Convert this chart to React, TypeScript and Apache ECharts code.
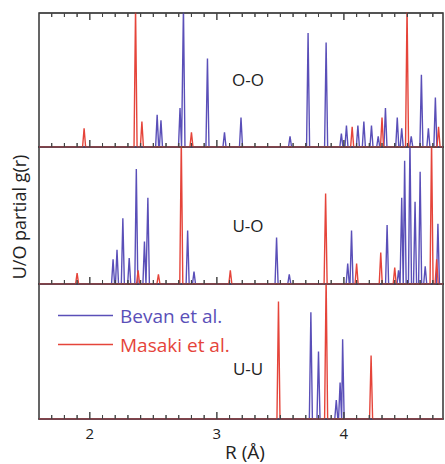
import React, { useEffect, useRef } from "react";
import * as echarts from "echarts";

// Peak positions R (Å) and relative heights (1 = panel top; >1 is clipped)
const OO_BEVAN: [number, number][] = [
  [2.53, 0.24], [2.56, 0.2], [2.71, 0.29], [2.737, 1.05], [2.926, 0.66], [3.06, 0.11],
  [3.19, 0.22], [3.576, 0.08], [3.718, 0.85], [3.86, 0.78], [3.98, 0.1], [4.02, 0.16],
  [4.11, 0.16], [4.157, 0.19], [4.217, 0.16], [4.27, 0.08], [4.327, 0.29], [4.42, 0.22],
  [4.455, 0.14], [4.53, 0.08], [4.61, 0.54], [4.665, 0.14], [4.72, 0.37],
];
const OO_MASAKI: [number, number][] = [
  [1.955, 0.14], [2.36, 1.05], [2.41, 0.19], [2.8, 0.11], [4.065, 0.15], [4.3, 0.22],
  [4.497, 1.05], [4.745, 0.15],
];
const UO_BEVAN: [number, number][] = [
  [2.183, 0.18], [2.214, 0.25], [2.26, 0.48], [2.31, 0.19], [2.366, 0.84], [2.43, 0.31],
  [2.457, 0.63], [2.77, 0.39], [2.82, 0.09], [3.47, 0.34], [3.57, 0.07], [4.03, 0.15],
  [4.06, 0.39], [4.34, 0.43], [4.43, 0.1], [4.455, 0.63], [4.478, 0.9], [4.52, 1.05],
  [4.56, 0.6], [4.6, 0.82], [4.64, 0.13], [4.74, 0.44],
];
const UO_MASAKI: [number, number][] = [
  [1.9, 0.08], [2.38, 0.1], [2.54, 0.07], [2.72, 1.05], [3.106, 0.1], [3.856, 0.66],
  [4.1, 0.15], [4.29, 0.23], [4.4, 0.12], [4.69, 1.05], [4.73, 0.18],
];
const UU_BEVAN: [number, number][] = [
  [3.74, 0.79], [3.8, 0.5], [3.94, 0.14], [3.97, 0.27], [3.99, 0.59],
];
const UU_MASAKI: [number, number][] = [
  [3.485, 0.87], [3.86, 1.05], [4.214, 0.47],
];

const PANEL_LABELS = ["O-O", "U-O", "U-U"];
const SERIES_NAMES = ["Bevan et al.", "Masaki et al."];
const X_TICK_LABELS = [2, 3, 4];
const X_MIN = 1.6;
const X_MAX = 4.78;
const MINOR_STEP = 0.1;

const BLUE = "#5a4fb8";
const RED = "#e5443a";
const FONT = "Open Sans";
const HALF_WIDTH = 0.012;
const MAJOR_TICK_PX = 7;
const MINOR_TICK_PX = 4;

function peaksToLine(peaks: [number, number][]): [number, number][] {
  const sorted = [...peaks].sort((a, b) => a[0] - b[0]);
  const out: [number, number][] = [[X_MIN, 0]];
  for (const [x, h] of sorted) {
    out.push([x - HALF_WIDTH, 0], [x, h], [x + HALF_WIDTH, 0]);
  }
  out.push([X_MAX, 0]);
  return out;
}

// tick positions every 0.1 Å along the R axis
const TICK_POSITIONS: number[] = [];
for (let k = Math.ceil(X_MIN / MINOR_STEP + 1e-9); k * MINOR_STEP < X_MAX - 1e-9; k++) {
  TICK_POSITIONS.push(Math.round(k * MINOR_STEP * 10) / 10);
}

// comb of inward ticks along an edge (base = 0 for bottom, 1 for top)
function tickComb(base: number, dir: number, panelPx: number): [number, number][] {
  const out: [number, number][] = [[X_MIN, base]];
  for (const v of TICK_POSITIONS) {
    const px = X_TICK_LABELS.includes(v) ? MAJOR_TICK_PX : MINOR_TICK_PX;
    out.push([v, base], [v, base + (dir * px) / panelPx], [v, base]);
  }
  out.push([X_MAX, base]);
  return out;
}

export default function App() {
  const ref = useRef<HTMLDivElement>(null);

  useEffect(() => {
    if (!ref.current) return;
    const chart = echarts.init(ref.current, undefined, { renderer: "svg" });

    const tops = [13, 147, 284];
    const heights = [134, 137, 135];
    const panels = [
      [OO_BEVAN, OO_MASAKI],
      [UO_BEVAN, UO_MASAKI],
      [UU_BEVAN, UU_MASAKI],
    ];

    const grid = tops.map((top, i) => ({
      left: 39,
      right: 2,
      top,
      height: heights[i],
      show: true,
      borderColor: "#333",
      borderWidth: 1.5,
    }));

    const xAxis = tops.map((_, i) => ({
      type: "value",
      gridIndex: i,
      position: "bottom",
      min: X_MIN,
      max: X_MAX,
      axisLine: { show: true, lineStyle: { color: "#333", width: 1.5 } },
      axisTick: { show: false },
      axisLabel: {
        show: i === 2,
        customValues: X_TICK_LABELS,
        fontFamily: FONT,
        fontSize: 15,
        color: "#222",
        margin: 6,
      },
      splitLine: { show: false },
    }));

    const yAxis = tops.map((_, i) => ({
      type: "value",
      gridIndex: i,
      min: 0,
      max: 1,
      show: false,
    }));

    const series: any[] = [];
    panels.forEach((pair, i) => {
      pair.forEach((peaks, k) => {
        series.push({
          type: "line",
          name: SERIES_NAMES[k],
          xAxisIndex: i,
          yAxisIndex: i,
          data: peaksToLine(peaks),
          symbol: "none",
          clip: true,
          color: k === 0 ? BLUE : RED,
          lineStyle: { width: 1.4, color: k === 0 ? BLUE : RED },
          z: k === 0 ? 2 : 3,
        });
      });
    });

    const combSeries = (i: number, base: number, dir: number) => ({
      type: "line",
      name: "ticks",
      xAxisIndex: i,
      yAxisIndex: i,
      data: tickComb(base, dir, heights[i]),
      symbol: "none",
      silent: true,
      clip: false,
      z: 4,
      lineStyle: { width: 1, color: "#444" },
    });
    tops.forEach((_, i) => series.push(combSeries(i, 0, 1)));
    series.push(combSeries(0, 1, -1));

    const labelY = [79, 225, 368];

    chart.setOption({
      animation: false,
      backgroundColor: "#fff",
      grid,
      xAxis,
      yAxis,
      series,
      legend: {
        orient: "vertical",
        left: 53,
        top: 301,
        icon: "rect",
        itemWidth: 55,
        itemHeight: 1.5,
        itemGap: 10,
        textStyle: { fontFamily: FONT, fontSize: 19, padding: [0, 0, 0, 2] },
        data: [
          { name: SERIES_NAMES[0], textStyle: { color: BLUE } },
          { name: SERIES_NAMES[1], textStyle: { color: RED } },
        ],
      },
      graphic: [
        ...PANEL_LABELS.map((t, i) => ({
          type: "text",
          x: 248,
          y: labelY[i],
          style: {
            text: t,
            fontFamily: FONT,
            fontSize: 17,
            fill: "#222",
            align: "center",
            verticalAlign: "middle",
          },
        })),
        {
          type: "text",
          x: 19,
          y: 217,
          rotation: Math.PI / 2,
          style: {
            text: "U/O partial g(r)",
            fontFamily: FONT,
            fontSize: 18,
            fill: "#222",
            align: "center",
            verticalAlign: "middle",
          },
        },
        {
          type: "text",
          x: 245,
          y: 452,
          style: {
            text: "R (Å)",
            fontFamily: FONT,
            fontSize: 19,
            fill: "#222",
            align: "center",
            verticalAlign: "middle",
          },
        },
      ],
    });

    return () => chart.dispose();
  }, []);

  return (
    <div
      ref={ref}
      style={{ position: "fixed", left: 0, top: 0, width: 445, height: 464 }}
    />
  );
}
